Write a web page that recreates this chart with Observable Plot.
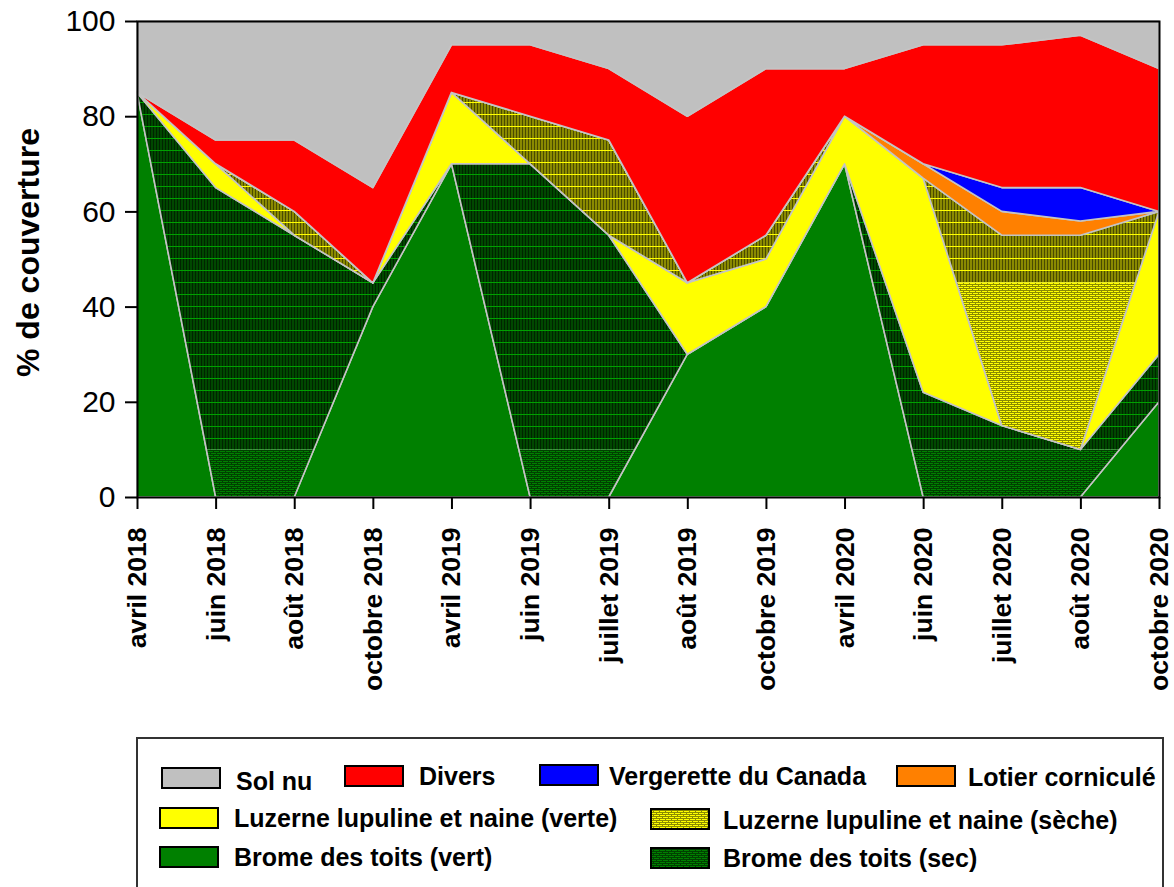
<!DOCTYPE html>
<html>
<head>
<meta charset="utf-8">
<script src="https://cdn.jsdelivr.net/npm/d3@7"></script>
<script src="https://cdn.jsdelivr.net/npm/@observablehq/plot@0.6"></script>
<style>
  html, body { margin: 0; padding: 0; background: #fff; overflow: hidden; }
  #wrap { position: relative; width: 1174px; height: 887px; font-family: "Liberation Sans", Arial, sans-serif; }
  #chart { position: absolute; left: 0; top: 0; }
  #legend { position: absolute; left: 136px; top: 737px; width: 1028px; height: 200px; border: 2px solid #333; box-sizing: border-box; }
  .lbl { position: absolute; font-size: 25px; font-weight: bold; line-height: 30px; white-space: nowrap; color: #000; }
  .sw { position: absolute; }
</style>
</head>
<body>
<svg id="defs" style="position:absolute;width:0;height:0;overflow:hidden" aria-hidden="true"><defs id="patdefs"></defs></svg>
<div id="wrap">
  <div id="chart"></div>
  <div id="legend"></div>
</div>
<script>
// ---------- data ----------
const dates = ["avril 2018", "juin 2018", "août 2018", "octobre 2018", "avril 2019", "juin 2019", "juillet 2019",
  "août 2019", "octobre 2019", "avril 2020", "juin 2020", "juillet 2020", "août 2020", "octobre 2020"];

const species = ["Brome des toits (vert)", "Brome des toits (sec)", "Luzerne lupuline et naine (verte)",
  "Luzerne lupuline et naine (sèche)", "Lotier corniculé", "Vergerette du Canada", "Divers", "Sol nu"];

const bromeVert     = [85, 0, 0, 40, 70, 0, 0, 30, 40, 70, 0, 0, 0, 20];
const bromeSec      = [0, 65, 55, 5, 0, 70, 55, 0, 0, 0, 22, 15, 10, 10];
const luzerneVerte  = [0, 5, 0, 0, 15, 0, 0, 15, 10, 10, 45, 0, 0, 30];
const luzerneSeche  = [0, 0, 5, 0, 0, 10, 20, 0, 5, 0, 0, 40, 45, 0];
const lotier        = [0, 0, 0, 0, 0, 0, 0, 0, 0, 0, 3, 5, 3, 0];
const vergerette    = [0, 0, 0, 0, 0, 0, 0, 0, 0, 0, 0, 5, 7, 0];
const divers        = [0, 5, 15, 20, 10, 15, 15, 35, 35, 10, 25, 30, 32, 30];
const solNu         = [15, 25, 25, 35, 5, 5, 10, 20, 10, 10, 5, 5, 3, 10];

const seriesValues = [bromeVert, bromeSec, luzerneVerte, luzerneSeche, lotier, vergerette, divers, solNu];
const yTicks = [0, 20, 40, 60, 80, 100];
const yTitle = "% de couverture";

// ---------- styles ----------
const fills = ["#008000", "url(#bromeSec)", "#ffff00", "url(#luzSeche)", "#ff8000", "#0000ff", "#ff0000", "#c0c0c0"];
const legendFills = ["#008000", "url(#bromeBrick)", "#ffff00", "url(#luzBrick)", "#ff8000", "#0000ff", "#ff0000", "#c0c0c0"];

const data = [];
species.forEach((s, i) => dates.forEach((d, j) => data.push({date: d, species: s, value: seriesValues[i][j]})));

const W = 1174, H = 700;
const chart = Plot.plot({
  width: W, height: H,
  marginLeft: 137, marginRight: 15, marginTop: 21, marginBottom: 203,
  style: {fontFamily: "'Liberation Sans', Arial, sans-serif", background: "white", color: "black"},
  x: {type: "point", domain: dates, padding: 0, round: false},
  y: {domain: [0, 100]},
  color: {domain: species, range: fills},
  marks: [
    Plot.areaY(data, {x: "date", y: "value", z: "species", fill: "species", order: species,
      stroke: "#c4c4c4", strokeWidth: 1.6, strokeLinejoin: "round"}),
    Plot.frame({stroke: "black", strokeWidth: 2}),
    Plot.axisY({ticks: yTicks, tickSize: 12, tickPadding: 10, fontSize: 30, label: null, strokeWidth: 2}),
    Plot.axisX({tickRotate: -90, tickSize: 12, tickPadding: 18, fontSize: 26.5, fontWeight: "bold", label: null, strokeWidth: 2}),
    Plot.text([yTitle], {text: d => d, frameAnchor: "left", textAnchor: "middle", dx: -109, dy: -7, rotate: -90, fontSize: 32, fontWeight: "bold"})
  ]
});
document.getElementById("chart").appendChild(chart);

// ---------- patterns (split boundaries via y scale) ----------
const ys = chart.scale("y");
const yb10 = ys.apply(10), yb45 = ys.apply(45);
const ns = "http://www.w3.org/2000/svg";
const defs = document.getElementById("patdefs");
function el(tag, attrs, parent) {
  const e = document.createElementNS(ns, tag);
  for (const k in attrs) e.setAttribute(k, attrs[k]);
  if (parent) parent.appendChild(e);
  return e;
}
function stripe(id, base, dark, light) {
  const p = el("pattern", {id, patternUnits: "userSpaceOnUse", x: 0, y: 0, width: 3, height: 12}, defs);
  el("rect", {x: 0, y: 0, width: 3, height: 12, fill: base}, p);
  el("rect", {x: 0, y: 0, width: 1, height: 12, fill: dark}, p);
  el("rect", {x: 0, y: 6, width: 3, height: 1, fill: light}, p);
}
function brick(id, base, dark) {
  const p = el("pattern", {id, patternUnits: "userSpaceOnUse", x: 0, y: 0, width: 6, height: 4}, defs);
  el("rect", {x: 0, y: 0, width: 6, height: 4, fill: base}, p);
  el("rect", {x: 0, y: 0, width: 6, height: 1, fill: dark}, p);
  el("rect", {x: 0, y: 2, width: 6, height: 1, fill: dark}, p);
  el("rect", {x: 0, y: 1, width: 1, height: 1, fill: dark}, p);
  el("rect", {x: 3, y: 3, width: 1, height: 1, fill: dark}, p);
}
function split(id, upper, lower, yb) {
  const p = el("pattern", {id, patternUnits: "userSpaceOnUse", x: 0, y: 0, width: W, height: H}, defs);
  el("rect", {x: 0, y: 0, width: W, height: yb, fill: `url(#${upper})`}, p);
  el("rect", {x: 0, y: yb, width: W, height: H - yb, fill: `url(#${lower})`}, p);
}
stripe("bromeStripe", "#004800", "#002400", "#00a000");
brick("bromeBrick", "#008000", "#004000");
stripe("luzStripe", "#8a8a00", "#4a4a00", "#ffff00");
brick("luzBrick", "#ffff00", "#8a8a00");
split("bromeSec", "bromeStripe", "bromeBrick", yb10);
split("luzSeche", "luzStripe", "luzBrick", yb45);

// ---------- legend ----------
const legendItems = [
  {i: 7, sx: 162, sy: 768, tx: 236, ty: 781},
  {i: 6, sx: 345, sy: 766, tx: 419, ty: 776},
  {i: 5, sx: 540, sy: 765, tx: 609, ty: 776},
  {i: 4, sx: 897, sy: 766, tx: 968, ty: 777},
  {i: 2, sx: 160, sy: 808, tx: 234, ty: 818},
  {i: 3, sx: 651, sy: 809, tx: 723, ty: 820},
  {i: 0, sx: 160, sy: 847, tx: 234, ty: 857},
  {i: 1, sx: 651, sy: 848, tx: 723, ty: 858}
];
const wrap = document.getElementById("wrap");
legendItems.forEach(it => {
  const sw = el("svg", {width: 60, height: 22, class: "sw"});
  sw.style.left = (it.sx - 1) + "px";
  sw.style.top = (it.sy - 1) + "px";
  el("rect", {x: 1, y: 1, width: 58, height: 20, fill: legendFills[it.i], stroke: "#000", "stroke-width": 2}, sw);
  wrap.appendChild(sw);
  const t = document.createElement("div");
  t.className = "lbl";
  t.textContent = species[it.i];
  t.style.left = it.tx + "px";
  t.style.top = (it.ty - 15) + "px";
  wrap.appendChild(t);
});
</script>
</body>
</html>
